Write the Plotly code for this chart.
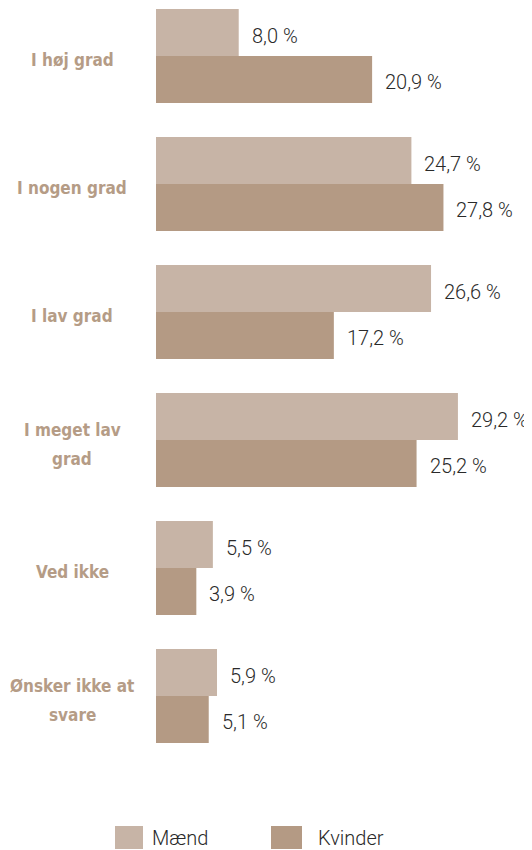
import plotly.graph_objects as go

categories = ["I høj grad", "I nogen grad", "I lav grad", "I meget lav<br>grad", "Ved ikke", "Ønsker ikke at<br>svare"]
maend = [8.0, 24.7, 26.6, 29.2, 5.5, 5.9]
kvinder = [20.9, 27.8, 17.2, 25.2, 3.9, 5.1]
series_names = ["Mænd", "Kvinder"]
colors = ["#c7b4a6", "#b49a84"]
label_color = "#b59c86"

OFF = 8  # page offset of the figure inside the window
W, H = 532 - OFF, 850 - OFF
ML, MR, MT, MB = 156 - OFF, 6, 0, 90
plot_w = W - ML - MR
plot_h = H - MT - MB
px_per_unit = 10.34
bargap = 0.266
half = (1 - bargap) / 4

fig = go.Figure()
ypos = list(range(len(categories)))
for name, vals, col in zip(series_names, [maend, kvinder], colors):
    fig.add_trace(go.Bar(y=ypos, x=vals, orientation="h", name=name,
                         marker=dict(color=col, line=dict(width=0)),
                         showlegend=False, hoverinfo="skip"))

def fmt(v):
    return f"{v:.1f}".replace(".", ",") + " %"

def px_x(px):
    return (px - OFF - ML) / plot_w

def px_y(py):
    return (plot_h - (py - OFF - MT)) / plot_h

val_font = dict(family="Roboto", size=20, color="#2a2a2a", weight=300)
cat_font = dict(family="DejaVu Sans Condensed", size=17, color=label_color, weight="bold")
annotations = []
for i in ypos:
    for vals, off in [(maend, -half), (kvinder, half)]:
        annotations.append(dict(x=vals[i], y=i + off, xref="x", yref="y",
                                text=fmt(vals[i]), showarrow=False, xanchor="left",
                                yanchor="middle", xshift=11, yshift=-3, font=val_font))
    lines = categories[i].split("<br>")
    shifts = [-3.5] if len(lines) == 1 else [10, -19]
    for line, ys in zip(lines, shifts):
        annotations.append(dict(x=px_x(72), y=i, xref="paper", yref="y",
                                text=line, showarrow=False, xanchor="center",
                                yanchor="middle", align="center", yshift=ys,
                                font=cat_font))

# legend drawn manually
shapes = []
leg_items = [(115, 143, 150), (271, 302, 316)]
for (x0, x1, tx), name, col in zip(leg_items, series_names, colors):
    shapes.append(dict(type="rect", xref="paper", yref="paper",
                       x0=px_x(x0), x1=px_x(x1), y0=px_y(849), y1=px_y(826),
                       fillcolor=col, line=dict(width=0)))
    annotations.append(dict(x=px_x(tx), y=px_y(838), xref="paper", yref="paper",
                            text=name, showarrow=False, xanchor="left", yanchor="middle",
                            font=val_font))

fig.update_layout(
    width=W, height=H,
    margin=dict(l=ML, r=MR, t=MT, b=MB),
    barmode="group", bargap=bargap, bargroupgap=0,
    plot_bgcolor="white", paper_bgcolor="white",
    xaxis=dict(range=[0, plot_w / px_per_unit], visible=False),
    yaxis=dict(range=[len(categories) - 0.5, -0.5 + 16 / 128], visible=False),
    annotations=annotations, shapes=shapes,
)

fig.write_html("out.html")
